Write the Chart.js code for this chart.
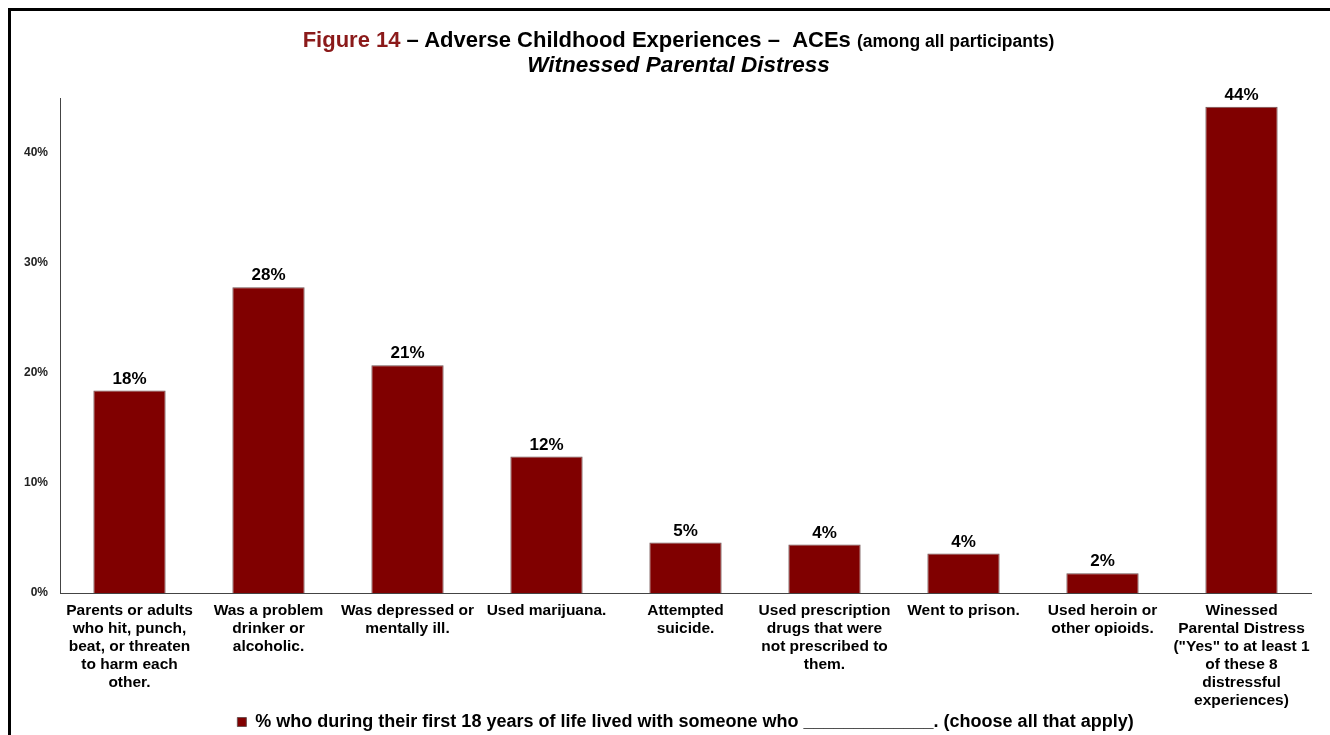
<!DOCTYPE html>
<html>
<head>
<meta charset="utf-8">
<script src="https://cdn.jsdelivr.net/npm/chart.js@4.4.1/dist/chart.umd.min.js"></script>
<style>
  html, body { margin: 0; padding: 0; background: #fff; overflow: hidden; }
  #wrap { position: relative; width: 1330px; height: 735px; }
  #frame { position: absolute; left: 8px; top: 8px; width: 1400px; height: 800px;
           border-top: 3px solid #000; border-left: 3px solid #000; }
  #title { position: absolute; left: 0; top: 28px; width: 1357px; text-align: center;
           font-family: "Liberation Sans", Arial, sans-serif;
           font-weight: bold; color: #000; line-height: 24px; }
  #title .l1 { font-size: 22px; }
  #title .red { color: #8b1a1a; }
  #title .small { font-size: 17.5px; }
  #title .l2 { font-size: 22.5px; font-style: italic; }
  canvas { position: absolute; left: 0; top: 0; }
</style>
</head>
<body>
<div id="wrap">
  <div id="frame"></div>
  <canvas id="myChart" width="1330" height="735"></canvas>
  <div id="title">
    <div class="l1"><span class="red">Figure 14</span> – Adverse Childhood Experiences – &nbsp;ACEs <span class="small">(among all participants)</span></div>
    <div class="l2">Witnessed Parental Distress</div>
  </div>
</div>
<script>
  const categories = [
    ["Parents or adults", "who hit, punch,", "beat, or threaten", "to harm each", "other."],
    ["Was a problem", "drinker or", "alcoholic."],
    ["Was depressed or", "mentally ill."],
    ["Used marijuana."],
    ["Attempted", "suicide."],
    ["Used prescription", "drugs that were", "not prescribed to", "them."],
    ["Went to prison."],
    ["Used heroin or", "other opioids."],
    ["Winessed", "Parental Distress", "(\"Yes\" to at least 1", "of these 8", "distressful", "experiences)"]
  ]
  const seriesName = "% who during their first 18 years of life lived with someone who _____________. (choose all that apply)"
  const values = [18.4, 27.8, 20.7, 12.4, 4.6, 4.4, 3.6, 1.8, 44.2]
  const yTicks = [0, 10, 20, 30, 40]

  const barColor = "#800000"
  const font = "'Liberation Sans', Arial, sans-serif"

  // value labels above the bars
  const barLabels = {
    id: "barLabels",
    afterDatasetsDraw(chart) {
      const ctx = chart.ctx
      const meta = chart.getDatasetMeta(0)
      ctx.save()
      ctx.font = "bold 17px " + font
      ctx.fillStyle = "#000"
      ctx.textAlign = "center"
      ctx.textBaseline = "bottom"
      meta.data.forEach((bar, i) => {
        ctx.fillText(Math.round(values[i]) + "%", bar.x, bar.y - 3)
      })
      ctx.restore()
    }
  }

  new Chart(document.getElementById("myChart"), {
    type: "bar",
    data: {
      labels: categories,
      datasets: [{
        label: seriesName,
        data: values,
        backgroundColor: barColor,
        borderColor: "#6e5050",
        borderWidth: 1,
        barPercentage: 0.52,
        categoryPercentage: 1.0
      }]
    },
    options: {
      responsive: false,
      animation: false,
      layout: { padding: { top: 98, right: 19, left: 0, bottom: -6 } },
      plugins: {
        tooltip: { enabled: false },
        legend: {
          position: "bottom",
          fullSize: false,
          labels: {
            boxWidth: 9,
            boxHeight: 9,
            padding: 4,
            color: "#000",
            font: { family: font, size: 18, weight: "bold" }
          }
        }
      },
      scales: {
        x: {
          grid: { display: false, drawTicks: false },
          border: { color: "#444", width: 1 },
          ticks: {
            color: "#000",
            padding: 9,
            maxRotation: 0,
            autoSkip: false,
            font: { family: font, size: 15.5, weight: "bold", lineHeight: 1.16 }
          },
          afterFit(scale) { scale.height = 116 }
        },
        y: {
          min: 0,
          max: 45,
          grid: { display: false, drawTicks: false },
          border: { color: "#444", width: 1 },
          afterBuildTicks(scale) { scale.ticks = yTicks.map(v => ({ value: v })) },
          ticks: {
            color: "#222",
            padding: 12,
            font: { family: font, size: 12, weight: "bold" },
            callback: v => v + "%"
          },
          afterFit(scale) { scale.width = 60 }
        }
      }
    },
    plugins: [barLabels]
  })
</script>
</body>
</html>
